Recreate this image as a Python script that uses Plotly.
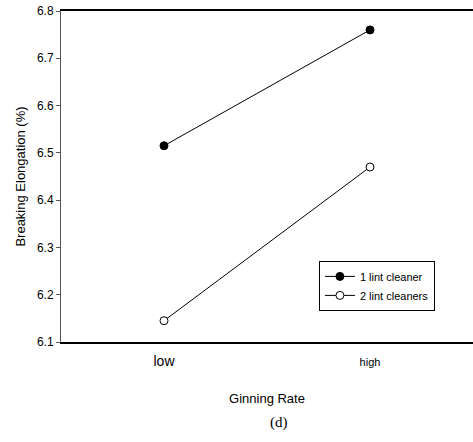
import plotly.graph_objects as go

# Data
rates = ["low", "high"]
rate_labels = ['<span style="font-size:14px">low</span>', '<span style="font-size:11px">high</span>']
one_cleaner = [6.515, 6.76]
two_cleaners = [6.145, 6.47]
series_names = ["1 lint cleaner", "2 lint cleaners"]
ytick_vals = [6.1, 6.2, 6.3, 6.4, 6.5, 6.6, 6.7, 6.8]

FONT = "Liberation Sans, Arial, sans-serif"

fig = go.Figure()
fig.add_trace(go.Scatter(
    x=rates, y=one_cleaner, name=series_names[0], mode="lines+markers",
    line=dict(color="black", width=1),
    marker=dict(symbol="circle", size=8, color="black", line=dict(color="black", width=1)),
))
fig.add_trace(go.Scatter(
    x=rates, y=two_cleaners, name=series_names[1], mode="lines+markers",
    line=dict(color="black", width=1),
    marker=dict(symbol="circle", size=8, color="white", line=dict(color="black", width=1)),
))

fig.update_layout(
    width=473, height=442,
    margin=dict(l=61, r=0, t=10.5, b=100),
    paper_bgcolor="white", plot_bgcolor="white",
    font=dict(family=FONT, size=12, color="black"),
    showlegend=True,
    legend=dict(
        x=0.626, y=0.245, xanchor="left", yanchor="top",
        bordercolor="black", borderwidth=1, bgcolor="white",
        font=dict(family=FONT, size=11, color="black"),
        tracegroupgap=0, itemwidth=30,
    ),
    xaxis=dict(
        type="category", range=[-0.5, 1.5],
        tickmode="array", tickvals=rates, ticktext=rate_labels,
        showline=True, mirror=True, linecolor="black", linewidth=1.5,
        ticks="", ticklabelstandoff=8, showgrid=False, zeroline=False, automargin=False,
        title=dict(text="Ginning Rate", font=dict(family=FONT, size=13), standoff=26),
    ),
    yaxis=dict(
        range=[6.1, 6.8], tickmode="array", tickvals=ytick_vals,
        tickformat=".1f", ticklabeloverflow="allow",
        showline=True, linecolor="#555555", linewidth=1,
        ticks="outside", ticklen=4, tickcolor="#555555", tickwidth=1,
        showgrid=False, zeroline=False, automargin=False,
        tickfont=dict(family=FONT, size=12),
        title=dict(text="Breaking Elongation (%)", font=dict(family=FONT, size=13), standoff=8),
    ),
    annotations=[dict(
        text="(d)", xref="paper", yref="paper", x=0.529, y=-0.243,
        xanchor="center", yanchor="middle", showarrow=False,
        font=dict(family="Liberation Serif, Times New Roman, serif", size=15, color="black"),
    )],
)

fig.write_html(
    "out.html",
    config={"displayModeBar": False},
    post_script="document.body.style.margin='0';document.body.style.overflow='hidden';",
)
